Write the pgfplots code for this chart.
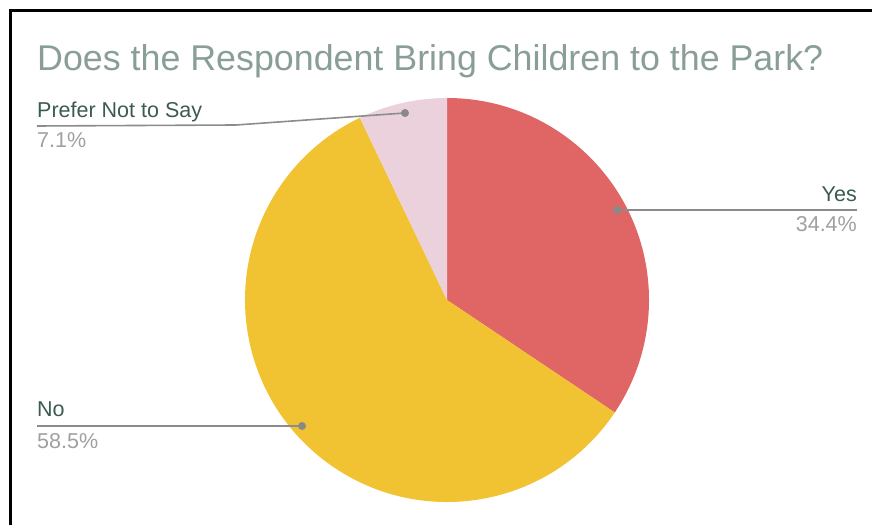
\documentclass[border=0pt]{standalone}
\usepackage{pgfplots}
\usepackage{pgfplotstable}
\pgfplotsset{compat=1.18}
\usepackage{fontspec}
\setmainfont{Liberation Sans}
\definecolor{cYes}{HTML}{E06666}
\definecolor{cNo}{HTML}{F1C232}
\definecolor{cPref}{HTML}{EAD1DC}
\definecolor{ctitle}{HTML}{8A9E98}
\definecolor{clab}{HTML}{3C5B50}
\definecolor{cpct}{HTML}{A0A0A0}
\definecolor{cline}{HTML}{8C8C8C}
\pgfplotstableread{
label value
Yes 34.4
No 58.5
Prefer 7.1
}\piedata
\begin{document}
\begin{tikzpicture}
\pgfplotstablegetelem{0}{value}\of\piedata \let\vA\pgfplotsretval
\pgfplotstablegetelem{1}{value}\of\piedata \let\vB\pgfplotsretval
\pgfplotstablegetelem{2}{value}\of\piedata \let\vC\pgfplotsretval
\pgfmathsetmacro\aA{90-3.6*\vA}
\pgfmathsetmacro\aB{\aA-3.6*\vB}
\pgfmathsetmacro\aC{\aB-3.6*\vC}
\begin{axis}[width=872pt,height=525pt,scale only axis,at={(0,0)},anchor=south west,
  xmin=0,xmax=872,ymin=0,ymax=525,axis lines=none,clip=false]
% pie slices
\fill[cYes] (axis cs:447,225) -- ++(90:202pt) arc[start angle=90,end angle=\aA,radius=202pt] -- cycle;
\fill[cNo] (axis cs:447,225) -- ++(\aA:202pt) arc[start angle=\aA,end angle=\aB,radius=202pt] -- cycle;
\fill[cPref] (axis cs:447,225) -- ++(\aB:202pt) arc[start angle=\aB,end angle=\aC,radius=202pt] -- cycle;
% leader lines
\draw[cline,line width=1.6pt] (axis cs:617,315) -- (axis cs:857,315);
\fill[cline!80!gray] (axis cs:617,315) circle[radius=4pt];
\draw[cline,line width=1.6pt] (axis cs:405,412) -- (axis cs:236,400) -- (axis cs:37,399);
\fill[cline!80!gray] (axis cs:405,412) circle[radius=4pt];
\draw[cline,line width=1.6pt] (axis cs:37,99) -- (axis cs:302,99);
\fill[cline!80!gray] (axis cs:302,99) circle[radius=4pt];
% labels
\node[anchor=base west,inner sep=0pt,text=ctitle,font=\fontsize{35.8}{40}\selectfont] at (axis cs:37,454) {Does the Respondent Bring Children to the Park?};
\node[anchor=base west,inner sep=0pt,text=clab,font=\fontsize{21.5}{25}\selectfont] at (axis cs:37,407.5) {Prefer Not to Say};
\node[anchor=base west,inner sep=0pt,text=cpct,font=\fontsize{21.5}{25}\selectfont] at (axis cs:37,377.5) {7.1\%};
\node[anchor=base east,inner sep=0pt,text=clab,font=\fontsize{21.5}{25}\selectfont] at (axis cs:857,323) {Yes};
\node[anchor=base east,inner sep=0pt,text=cpct,font=\fontsize{21.5}{25}\selectfont] at (axis cs:857,293) {34.4\%};
\node[anchor=base west,inner sep=0pt,text=clab,font=\fontsize{21.5}{25}\selectfont] at (axis cs:37,108) {No};
\node[anchor=base west,inner sep=0pt,text=cpct,font=\fontsize{21.5}{25}\selectfont] at (axis cs:37,77) {58.5\%};
% frame
\draw[black,line width=3pt] (axis cs:10.5,0) -- (axis cs:10.5,514.5) -- (axis cs:872,514.5);
\end{axis}
\pgfresetboundingbox
\path[use as bounding box] (0,0) rectangle (872pt,525pt);
\end{tikzpicture}
\end{document}
